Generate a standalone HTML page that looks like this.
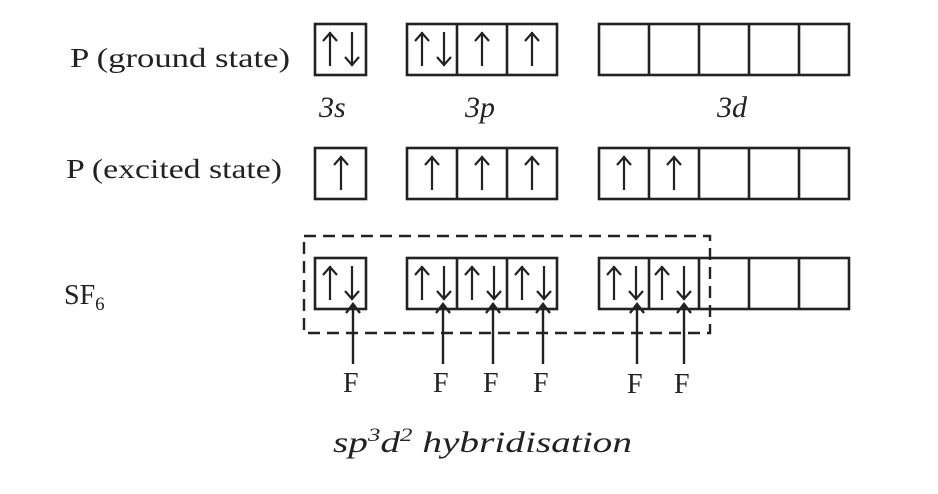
<!DOCTYPE html>
<html><head><style>
html,body{margin:0;padding:0;background:#fff;width:938px;height:494px;overflow:hidden}
svg{display:block}
text{font-family:"Liberation Serif",serif;fill:#222}
</style></head><body>
<svg width="938" height="494" viewBox="0 0 938 494" xmlns="http://www.w3.org/2000/svg">
<defs>
<g id="up"><path d="M0,8V42M-7,17L0,9L7,17" fill="none" stroke="#222" stroke-width="2.2"/></g>
<g id="dn"><path d="M0,8V42M-7,33L0,41L7,33" fill="none" stroke="#222" stroke-width="2.2"/></g>
</defs>
<g fill="none" stroke="#222" stroke-width="2.6">
<rect x="315" y="24" width="51" height="51"/>
<rect x="407" y="24" width="150" height="51"/><path d="M457,24V75M507,24V75"/>
<rect x="599" y="24" width="250" height="51"/><path d="M649,24V75M699,24V75M749,24V75M799,24V75"/>
<rect x="315" y="148" width="51" height="51"/>
<rect x="407" y="148" width="150" height="51"/><path d="M457,148V199M507,148V199"/>
<rect x="599" y="148" width="250" height="51"/><path d="M649,148V199M699,148V199M749,148V199M799,148V199"/>
<rect x="315" y="258" width="51" height="51"/>
<rect x="407" y="258" width="150" height="51"/><path d="M457,258V309M507,258V309"/>
<rect x="599" y="258" width="250" height="51"/><path d="M649,258V309M699,258V309M749,258V309M799,258V309"/>
<rect x="304" y="236" width="406" height="97" stroke-width="2.4" stroke-dasharray="12,7"/>
</g>
<use href="#up" x="330" y="24"/><use href="#dn" x="352" y="24"/>
<use href="#up" x="422" y="24"/><use href="#dn" x="444" y="24"/>
<use href="#up" x="482" y="24"/><use href="#up" x="532" y="24"/>
<use href="#up" x="341" y="148"/>
<use href="#up" x="432" y="148"/><use href="#up" x="482" y="148"/><use href="#up" x="532" y="148"/>
<use href="#up" x="624" y="148"/><use href="#up" x="674" y="148"/>
<use href="#up" x="330" y="258"/><use href="#dn" x="352" y="258"/>
<use href="#up" x="422" y="258"/><use href="#dn" x="444" y="258"/>
<use href="#up" x="472" y="258"/><use href="#dn" x="494" y="258"/>
<use href="#up" x="522" y="258"/><use href="#dn" x="544" y="258"/>
<use href="#up" x="614" y="258"/><use href="#dn" x="636" y="258"/>
<use href="#up" x="662" y="258"/><use href="#dn" x="684" y="258"/>
<g fill="none" stroke="#222" stroke-width="2.4">
<path d="M353,364V304M346,313L353,304L360,313"/>
<path d="M443,364V304M436,313L443,304L450,313"/>
<path d="M493,364V304M486,313L493,304L500,313"/>
<path d="M543,364V304M536,313L543,304L550,313"/>
<path d="M637,364V304M630,313L637,304L644,313"/>
<path d="M684,364V304M677,313L684,304L691,313"/>
</g>
<g font-size="28">
<text x="343" y="392">F</text><text x="433" y="392">F</text><text x="483" y="392">F</text>
<text x="533" y="392">F</text><text x="627" y="393">F</text><text x="674" y="393">F</text>
</g>
<text x="70" y="67" font-size="27" textLength="220" lengthAdjust="spacingAndGlyphs">P (ground state)</text>
<text x="66" y="178" font-size="27" textLength="216" lengthAdjust="spacingAndGlyphs">P (excited state)</text>
<text x="64" y="304" font-size="28">SF<tspan font-size="19" dy="6">6</tspan></text>
<g font-style="italic" font-size="30">
<text x="319" y="117">3s</text>
<text x="465" y="117">3p</text>
<text x="717" y="117">3d</text>
</g>
<text x="333" y="452" font-size="30" font-style="italic" textLength="299" lengthAdjust="spacingAndGlyphs">sp<tspan font-size="19" dy="-11">3</tspan><tspan dy="11">d</tspan><tspan font-size="19" dy="-11">2</tspan><tspan dy="11"> hybridisation</tspan></text>
</svg>
</body></html>
